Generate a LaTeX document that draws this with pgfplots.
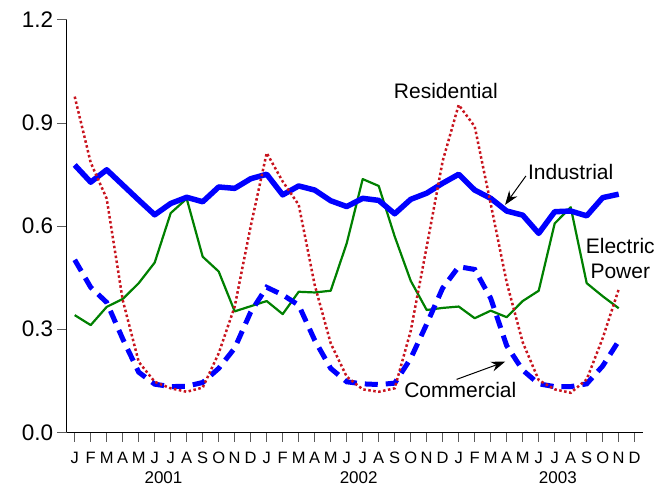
\documentclass[border=0pt]{standalone}
\usepackage{pgfplots}
\pgfplotsset{compat=1.18}
\usepackage{fontspec}
\setmainfont{Liberation Sans}
\usetikzlibrary{arrows.meta}

\definecolor{indblue}{RGB}{0,0,255}
\definecolor{resred}{RGB}{200,20,30}
\definecolor{epgreen}{RGB}{0,128,0}
\definecolor{tickgray}{RGB}{90,90,90}

\pgfplotstableread{
i v
0 0.778
1 0.728
2 0.764
3 0.720
4 0.676
5 0.633
6 0.666
7 0.684
8 0.671
9 0.714
10 0.710
11 0.738
12 0.751
13 0.691
14 0.717
15 0.705
16 0.674
17 0.657
18 0.681
19 0.675
20 0.636
21 0.678
22 0.696
23 0.725
24 0.751
25 0.705
26 0.681
27 0.644
28 0.632
29 0.579
30 0.642
31 0.644
32 0.630
33 0.683
34 0.693
}\industrial

\pgfplotstableread{
i v
0 0.977
1 0.785
2 0.680
3 0.385
4 0.205
5 0.147
6 0.128
7 0.118
8 0.130
9 0.230
10 0.366
11 0.600
12 0.813
13 0.730
14 0.662
15 0.429
16 0.259
17 0.162
18 0.125
19 0.118
20 0.128
21 0.295
22 0.540
23 0.790
24 0.953
25 0.890
26 0.665
27 0.436
28 0.262
29 0.152
30 0.125
31 0.115
32 0.154
33 0.274
34 0.416
}\residential

\pgfplotstableread{
i v
0 0.502
1 0.422
2 0.378
3 0.272
4 0.175
5 0.140
6 0.133
7 0.134
8 0.145
9 0.186
10 0.245
11 0.350
12 0.422
13 0.400
14 0.370
15 0.268
16 0.186
17 0.147
18 0.141
19 0.139
20 0.143
21 0.215
22 0.315
23 0.420
24 0.482
25 0.474
26 0.390
27 0.252
28 0.181
29 0.141
30 0.133
31 0.133
32 0.141
33 0.193
34 0.266
}\commercial

\pgfplotstableread{
i v
0 0.341
1 0.312
2 0.365
3 0.388
4 0.434
5 0.494
6 0.638
7 0.680
8 0.511
9 0.468
10 0.352
11 0.367
12 0.382
13 0.344
14 0.409
15 0.407
16 0.412
17 0.550
18 0.737
19 0.717
20 0.570
21 0.441
22 0.356
23 0.362
24 0.366
25 0.332
26 0.354
27 0.335
28 0.382
29 0.412
30 0.608
31 0.655
32 0.434
33 0.396
34 0.361
}\electric

\begin{document}
\begin{tikzpicture}
\useasboundingbox (0,0) rectangle (669pt,487pt);
\begin{axis}[
  at={(66.7pt,54.7pt)}, anchor=south west,
  scale only axis, width=576pt, height=412.3pt,
  xmin=-0.5, xmax=35.5, ymin=0, ymax=1.2,
  axis lines*=left,
  axis line style={black, line width=1pt},
  tick align=outside,
  major tick length=9.4pt,
  tick style={tickgray, line width=1pt},
  xtick={0,...,35},
  xticklabels={J,F,M,A,M,J,J,A,S,O,N,D,J,F,M,A,M,J,J,A,S,O,N,D,J,F,M,A,M,J,J,A,S,O,N,D},
  ytick={0,0.3,0.6,0.9,1.2},
  /pgf/number format/assume math mode=true,
  yticklabel style={/pgf/number format/.cd, fixed, fixed zerofill, precision=1, /tikz/.cd, font=\fontsize{22.5}{27}\selectfont, inner sep=0pt, xshift=-4pt},
  xticklabel style={font=\fontsize{16.5}{20}\selectfont, inner sep=0pt, yshift=-10pt},
  clip=false,
]
\addplot[epgreen, line width=2.2pt, line join=round] table[x=i, y=v] {\electric};
\addplot[indblue, line width=5pt, dash pattern=on 13pt off 8pt] table[x=i, y=v] {\commercial};
\addplot[indblue, line width=5.5pt, line join=round] table[x=i, y=v] {\industrial};
\addplot[resred, line width=2.5pt, dash pattern=on 2.5pt off 2.5pt] table[x=i, y=v] {\residential};

\node[font=\fontsize{17}{20}\selectfont, anchor=north, inner sep=0pt] at ([yshift=-39pt]axis cs:5.55,0) {2001};
\node[font=\fontsize{17}{20}\selectfont, anchor=north, inner sep=0pt] at ([yshift=-39pt]axis cs:17.75,0) {2002};
\node[font=\fontsize{17}{20}\selectfont, anchor=north, inner sep=0pt] at ([yshift=-39pt]axis cs:30.2,0) {2003};

\node[font=\fontsize{21}{25}\selectfont, inner sep=0pt] at (axis cs:23.2,0.994) {Residential};
\node[font=\fontsize{21}{25}\selectfont, inner sep=0pt] at (axis cs:31.0,0.758) {Industrial};
\node[font=\fontsize{21}{25}\selectfont, inner sep=0pt, align=center] at (axis cs:34.1,0.5045) {Electric\\Power};
\node[font=\fontsize{21}{25}\selectfont, inner sep=0pt] at (axis cs:24.1,0.123) {Commercial};

\draw[-{Stealth[length=14pt,width=10pt]}, line width=1pt] (axis cs:28.2,0.746) -- (axis cs:26.9,0.662);
\draw[-{Stealth[length=14pt,width=10pt]}, line width=1pt] (axis cs:23.87,0.154) -- (axis cs:26.9,0.2055);
\end{axis}
\end{tikzpicture}
\end{document}
